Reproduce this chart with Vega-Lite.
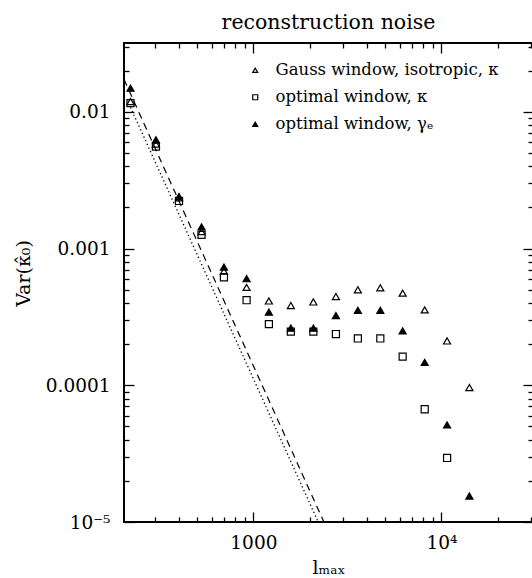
{
  "$schema": "https://vega.github.io/schema/vega-lite/v6.json",
  "autosize": {"type": "none"},
  "padding": {"left": 124, "top": 43, "right": 0, "bottom": 56},
  "width": 409,
  "height": 479,
  "title": {"text": "reconstruction noise", "font": "DejaVu Serif", "fontSize": 20.5, "fontWeight": "normal", "color": "black", "offset": 9, "anchor": "middle"},
  "config": {"view": {"stroke": "black", "strokeWidth": 2}, "background": "white"},
  "datasets": {
    "pts": [
      {"series": "Gauss window, isotropic, κ", "l": 222, "v": 0.0119},
      {"series": "Gauss window, isotropic, κ", "l": 303, "v": 0.00581},
      {"series": "Gauss window, isotropic, κ", "l": 402, "v": 0.00235},
      {"series": "Gauss window, isotropic, κ", "l": 530, "v": 0.00133},
      {"series": "Gauss window, isotropic, κ", "l": 697, "v": 0.000684},
      {"series": "Gauss window, isotropic, κ", "l": 920, "v": 0.00052},
      {"series": "Gauss window, isotropic, κ", "l": 1209, "v": 0.000414},
      {"series": "Gauss window, isotropic, κ", "l": 1582, "v": 0.000383},
      {"series": "Gauss window, isotropic, κ", "l": 2084, "v": 0.000407},
      {"series": "Gauss window, isotropic, κ", "l": 2747, "v": 0.000446},
      {"series": "Gauss window, isotropic, κ", "l": 3594, "v": 0.000499},
      {"series": "Gauss window, isotropic, κ", "l": 4732, "v": 0.000516},
      {"series": "Gauss window, isotropic, κ", "l": 6222, "v": 0.000472},
      {"series": "Gauss window, isotropic, κ", "l": 8150, "v": 0.000356},
      {"series": "Gauss window, isotropic, κ", "l": 10720, "v": 0.000211},
      {"series": "Gauss window, isotropic, κ", "l": 14090, "v": 0.0000962},
      {"series": "optimal window, κ", "l": 222, "v": 0.01158},
      {"series": "optimal window, κ", "l": 303, "v": 0.00557},
      {"series": "optimal window, κ", "l": 402, "v": 0.00223},
      {"series": "optimal window, κ", "l": 530, "v": 0.00126},
      {"series": "optimal window, κ", "l": 697, "v": 0.000617},
      {"series": "optimal window, κ", "l": 920, "v": 0.000419},
      {"series": "optimal window, κ", "l": 1209, "v": 0.00028},
      {"series": "optimal window, κ", "l": 1582, "v": 0.000247},
      {"series": "optimal window, κ", "l": 2084, "v": 0.000247},
      {"series": "optimal window, κ", "l": 2747, "v": 0.000237},
      {"series": "optimal window, κ", "l": 3594, "v": 0.00022},
      {"series": "optimal window, κ", "l": 4732, "v": 0.00022},
      {"series": "optimal window, κ", "l": 6222, "v": 0.000162},
      {"series": "optimal window, κ", "l": 8150, "v": 0.0000668},
      {"series": "optimal window, κ", "l": 10720, "v": 0.0000294},
      {"series": "optimal window, γₑ", "l": 222, "v": 0.0149},
      {"series": "optimal window, γₑ", "l": 303, "v": 0.00624},
      {"series": "optimal window, γₑ", "l": 402, "v": 0.0024},
      {"series": "optimal window, γₑ", "l": 530, "v": 0.00144},
      {"series": "optimal window, γₑ", "l": 697, "v": 0.000733},
      {"series": "optimal window, γₑ", "l": 920, "v": 0.000604},
      {"series": "optimal window, γₑ", "l": 1209, "v": 0.000343},
      {"series": "optimal window, γₑ", "l": 1582, "v": 0.000262},
      {"series": "optimal window, γₑ", "l": 2084, "v": 0.000262},
      {"series": "optimal window, γₑ", "l": 2747, "v": 0.000324},
      {"series": "optimal window, γₑ", "l": 3594, "v": 0.000354},
      {"series": "optimal window, γₑ", "l": 4732, "v": 0.000354},
      {"series": "optimal window, γₑ", "l": 6222, "v": 0.00025},
      {"series": "optimal window, γₑ", "l": 8150, "v": 0.000147},
      {"series": "optimal window, γₑ", "l": 10720, "v": 0.0000513},
      {"series": "optimal window, γₑ", "l": 14090, "v": 0.0000155}
    ],
    "lines": [
      {"line": "dashed", "l": 205, "v": 0.01729},
      {"line": "dashed", "l": 2371, "v": 0.00001},
      {"line": "dotted", "l": 222, "v": 0.01079},
      {"line": "dotted", "l": 2212, "v": 0.00001}
    ]
  },
  "resolve": {"axis": {"x": "independent", "y": "independent"}},
  "layer": [
    {
      "resolve": {"axis": {"x": "shared", "y": "shared"}},
      "layer": [
        {
          "data": {"name": "lines"},
          "transform": [{"filter": "datum.line == 'dashed'"}],
          "mark": {"type": "line", "color": "black", "strokeWidth": 1.2, "strokeDash": [7, 5]},
          "encoding": {
            "x": {"field": "l", "type": "quantitative", "scale": {"type": "log", "domain": [205, 30700], "nice": false}},
            "y": {"field": "v", "type": "quantitative", "scale": {"type": "log", "domain": [0.00001, 0.0319], "nice": false}}
          }
        },
        {
          "data": {"name": "lines"},
          "transform": [{"filter": "datum.line == 'dotted'"}],
          "mark": {"type": "line", "color": "black", "strokeWidth": 1.3, "strokeDash": [1.3, 2.7]},
          "encoding": {
            "x": {"field": "l", "type": "quantitative", "scale": {"type": "log", "domain": [205, 30700], "nice": false}},
            "y": {"field": "v", "type": "quantitative", "scale": {"type": "log", "domain": [0.00001, 0.0319], "nice": false}}
          }
        },
        {
          "data": {"name": "pts"},
          "mark": {"type": "point", "filled": true, "strokeWidth": 1.2, "opacity": 1, "size": 50},
          "encoding": {
            "x": {"field": "l", "type": "quantitative", "scale": {"type": "log", "domain": [205, 30700], "nice": false},
              "axis": {"orient": "bottom", "values": [1000, 10000],
                "tickSize": -10, "tickColor": "black", "tickWidth": 1.3,
                "grid": false, "domain": false,
                "labelExpr": "datum.value == 1000 ? '1000' : '10⁴'",
                "labelFont": "DejaVu Serif", "labelFontSize": 18.5, "labelColor": "black", "labelPadding": 21,
                "title": "lₘₐₓ", "titleFont": "DejaVu Serif", "titleFontSize": 19, "titleFontWeight": "normal", "titleColor": "black", "titlePadding": 7}},
            "y": {"field": "v", "type": "quantitative", "scale": {"type": "log", "domain": [0.00001, 0.0319], "nice": false},
              "axis": {"orient": "left", "values": [0.00001, 0.0001, 0.001, 0.01],
                "tickSize": -10, "tickColor": "black", "tickWidth": 1.3,
                "grid": false, "domain": false,
                "labelExpr": "datum.value == 0.01 ? '0.01' : datum.value == 0.001 ? '0.001' : datum.value == 0.0001 ? '0.0001' : '10⁻⁵'",
                "labelFont": "DejaVu Serif", "labelFontSize": 18.5, "labelColor": "black", "labelPadding": 24,
                "title": "Var(κ̂₀)", "titleFont": "DejaVu Serif", "titleFontSize": 19, "titleFontWeight": "normal", "titleColor": "black", "titlePadding": 12, "titleY": 230}},
            "shape": {"field": "series", "type": "nominal",
              "scale": {"domain": ["Gauss window, isotropic, κ", "optimal window, κ", "optimal window, γₑ"], "range": ["triangle-up", "square", "triangle-up"]},
              "legend": {"orient": "none", "legendX": 123, "legendY": 19, "title": null, "labelFont": "DejaVu Serif", "labelFontSize": 16.5, "labelColor": "black", "symbolSize": 25, "symbolStrokeWidth": 1.2, "rowPadding": 10, "labelOffset": 12, "padding": 0, "labelLimit": 0}},
            "fill": {"field": "series", "type": "nominal",
              "scale": {"domain": ["Gauss window, isotropic, κ", "optimal window, κ", "optimal window, γₑ"], "range": ["transparent", "transparent", "black"]},
              "legend": {"orient": "none", "legendX": 123, "legendY": 19, "title": null, "labelFont": "DejaVu Serif", "labelFontSize": 16.5, "labelColor": "black", "symbolSize": 25, "symbolStrokeWidth": 1.2, "rowPadding": 10, "labelOffset": 12, "padding": 0, "labelLimit": 0}},
            "stroke": {"field": "series", "type": "nominal",
              "scale": {"domain": ["Gauss window, isotropic, κ", "optimal window, κ", "optimal window, γₑ"], "range": ["black", "black", "black"]},
              "legend": {"orient": "none", "legendX": 123, "legendY": 19, "title": null, "labelFont": "DejaVu Serif", "labelFontSize": 16.5, "labelColor": "black", "symbolSize": 25, "symbolStrokeWidth": 1.2, "rowPadding": 10, "labelOffset": 12, "padding": 0, "labelLimit": 0}}
          }
        }
      ]
    },
    {
      "data": {"name": "pts"},
      "mark": {"type": "point", "opacity": 0},
      "encoding": {
        "x": {"field": "l", "type": "quantitative", "scale": {"type": "log", "domain": [205, 30700], "nice": false},
          "axis": {"orient": "bottom", "values": [300, 400, 500, 600, 700, 800, 900, 2000, 3000, 4000, 5000, 6000, 7000, 8000, 9000, 20000, 30000],
            "tickSize": -5, "tickColor": "black", "tickWidth": 1.3, "labels": false, "title": null, "grid": false, "domain": false}},
        "y": {"field": "v", "type": "quantitative", "scale": {"type": "log", "domain": [0.00001, 0.0319], "nice": false},
          "axis": {"orient": "left", "values": [0.00002, 0.00003, 0.00004, 0.00005, 0.00006, 0.00007, 0.00008, 0.00009, 0.0002, 0.0003, 0.0004, 0.0005, 0.0006, 0.0007, 0.0008, 0.0009, 0.002, 0.003, 0.004, 0.005, 0.006, 0.007, 0.008, 0.009, 0.02, 0.03],
            "tickSize": -5, "tickColor": "black", "tickWidth": 1.3, "labels": false, "title": null, "grid": false, "domain": false}}
      }
    },
    {
      "data": {"name": "pts"},
      "mark": {"type": "point", "opacity": 0},
      "encoding": {
        "x": {"field": "l", "type": "quantitative", "scale": {"type": "log", "domain": [205, 30700], "nice": false},
          "axis": {"orient": "top", "values": [1000, 10000],
            "tickSize": -10, "tickColor": "black", "tickWidth": 1.3, "labels": false, "title": null, "grid": false, "domain": false}},
        "y": {"field": "v", "type": "quantitative", "scale": {"type": "log", "domain": [0.00001, 0.0319], "nice": false},
          "axis": {"orient": "right", "values": [0.00001, 0.0001, 0.001, 0.01],
            "tickSize": -10, "tickColor": "black", "tickWidth": 1.3, "labels": false, "title": null, "grid": false, "domain": false}}
      }
    },
    {
      "data": {"name": "pts"},
      "mark": {"type": "point", "opacity": 0},
      "encoding": {
        "x": {"field": "l", "type": "quantitative", "scale": {"type": "log", "domain": [205, 30700], "nice": false},
          "axis": {"orient": "top", "values": [300, 400, 500, 600, 700, 800, 900, 2000, 3000, 4000, 5000, 6000, 7000, 8000, 9000, 20000, 30000],
            "tickSize": -5, "tickColor": "black", "tickWidth": 1.3, "labels": false, "title": null, "grid": false, "domain": false}},
        "y": {"field": "v", "type": "quantitative", "scale": {"type": "log", "domain": [0.00001, 0.0319], "nice": false},
          "axis": {"orient": "right", "values": [0.00002, 0.00003, 0.00004, 0.00005, 0.00006, 0.00007, 0.00008, 0.00009, 0.0002, 0.0003, 0.0004, 0.0005, 0.0006, 0.0007, 0.0008, 0.0009, 0.002, 0.003, 0.004, 0.005, 0.006, 0.007, 0.008, 0.009, 0.02, 0.03],
            "tickSize": -5, "tickColor": "black", "tickWidth": 1.3, "labels": false, "title": null, "grid": false, "domain": false}}
      }
    }
  ]
}
